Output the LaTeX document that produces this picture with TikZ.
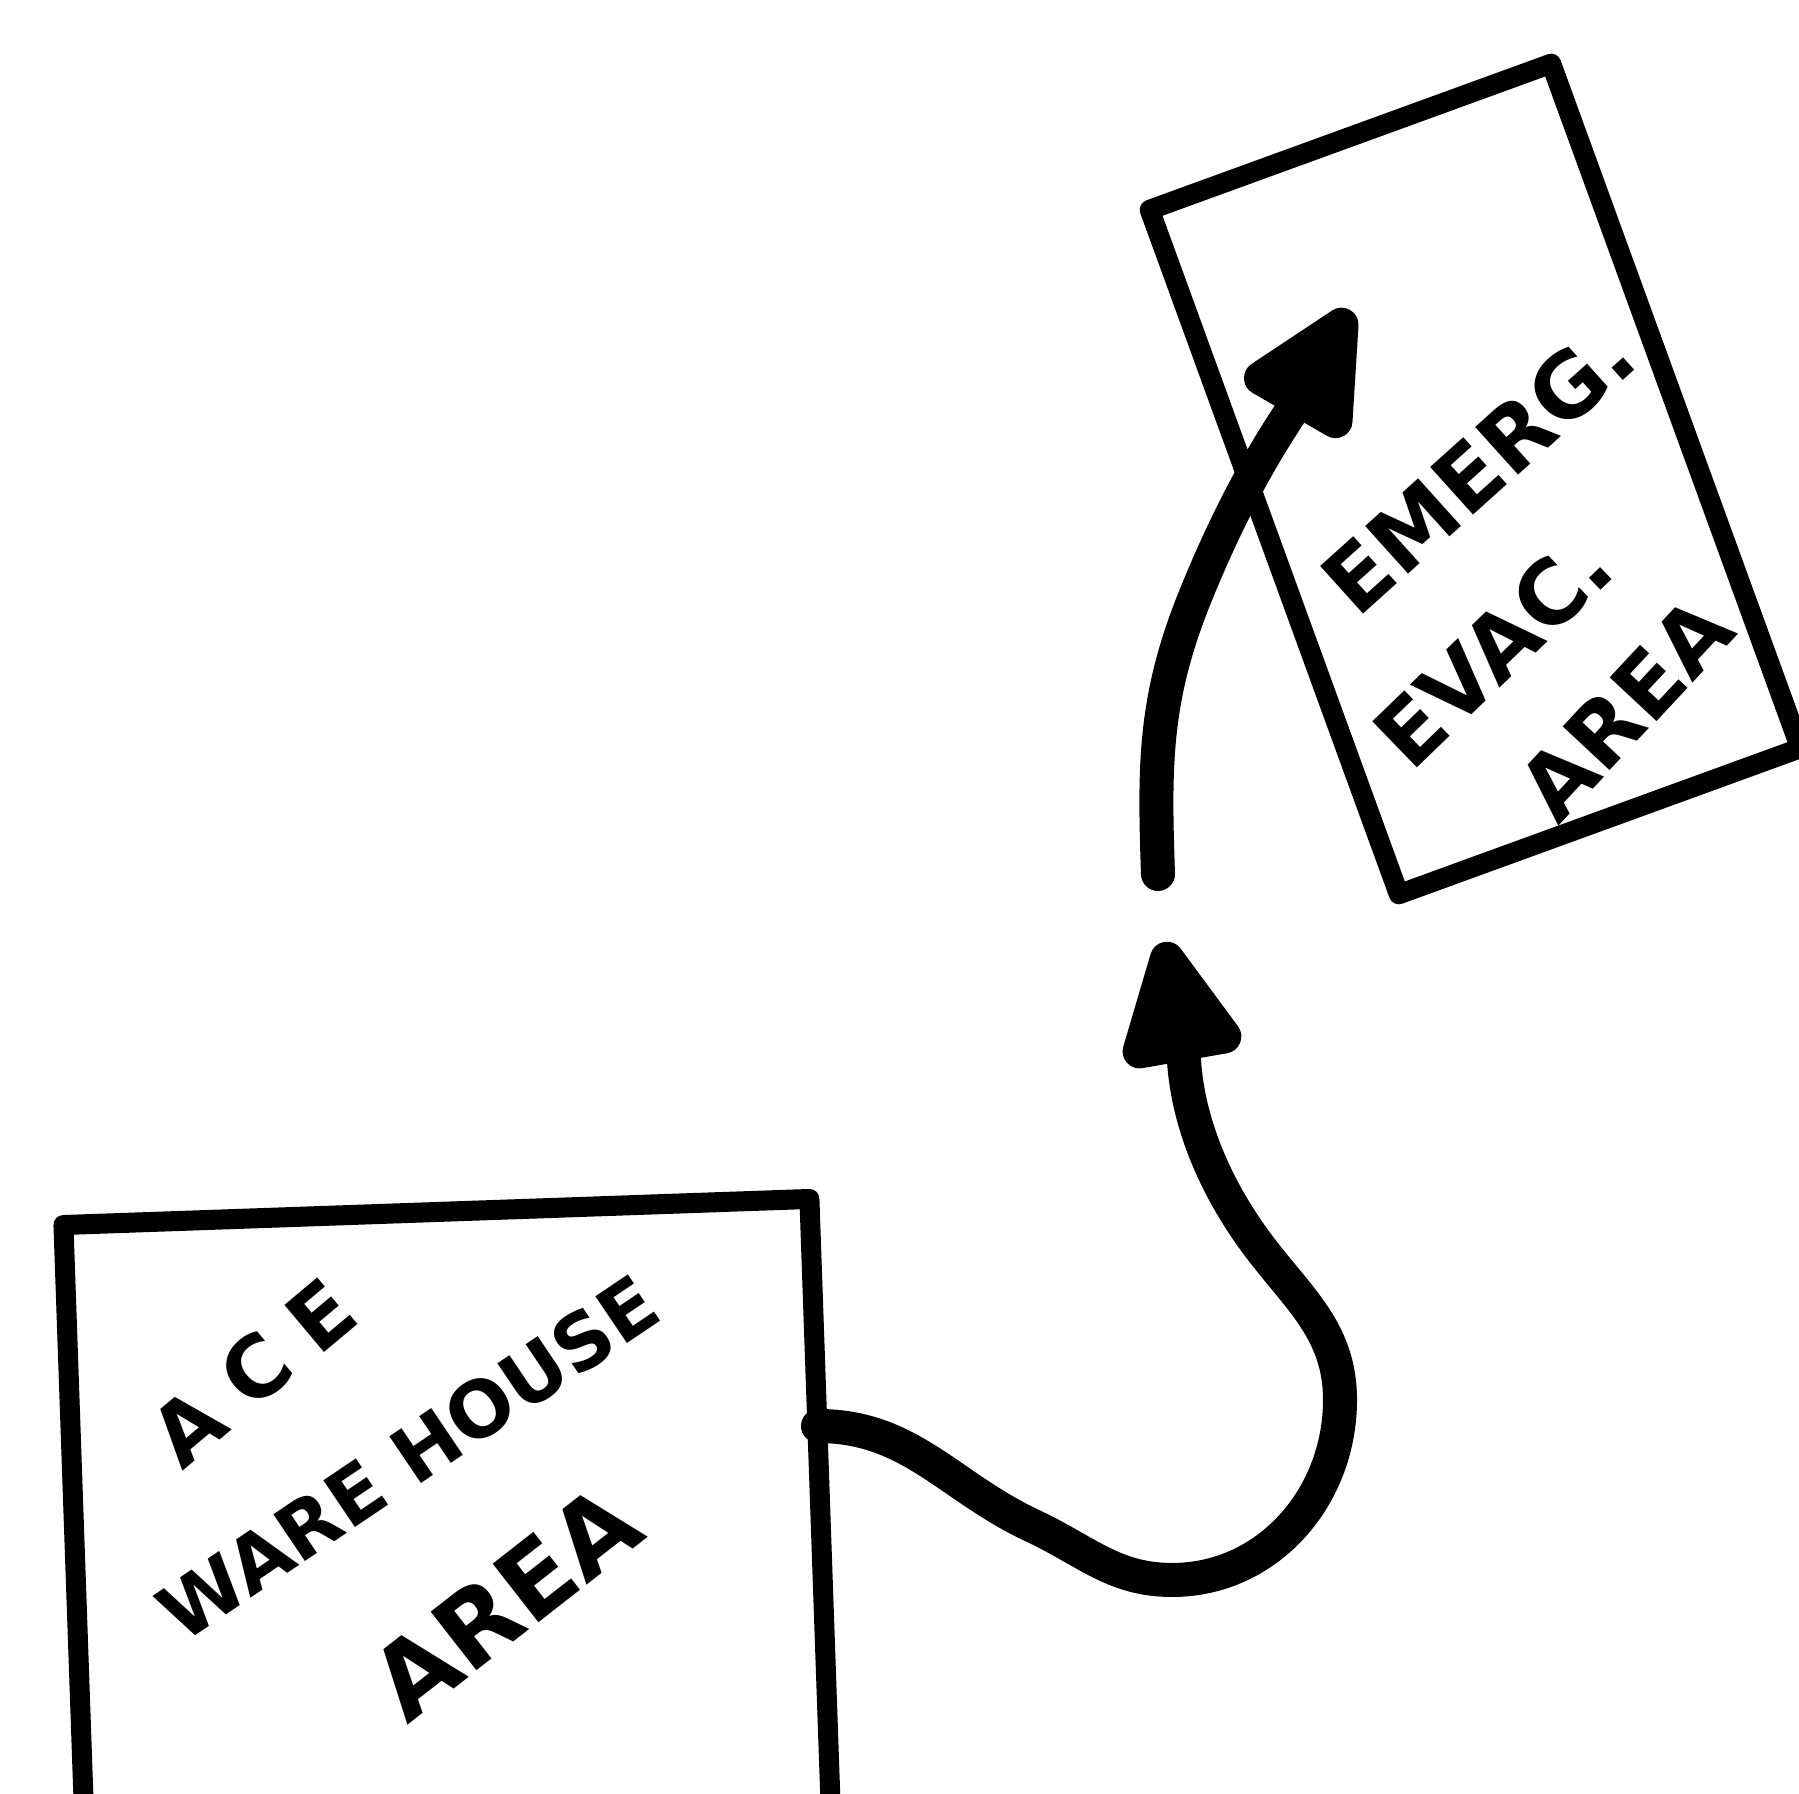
\documentclass[tikz,border=0pt]{standalone}
\usepackage{fontspec}
\setmainfont{DejaVu Sans}
\usetikzlibrary{arrows.meta}

\begin{document}
\begin{tikzpicture}[
	x=0.01cm,
	y=0.01cm,
	area/.style={
		rectangle,
		draw=black,
		line width=0.2cm,
		line join=round
	},
	handtext/.style={
		inner sep=0pt,
		font=\bfseries\fontsize{24}{28}\selectfont
	},
	arrow/.style={-{Triangle[length=1.45cm,width=1.3cm,round]}, line width=0.34cm, line cap=round}
]

\clip (0,0) rectangle (1799,1794);

% Ware house area (cut off by the bottom edge)
\node[area, minimum width=7.46cm, minimum height=7.2cm, rotate=2] (ware) at (449,222) {};

\node[handtext, rotate=40] (ace) at (253,422) {A\hspace{0.25cm}C\hspace{0.25cm}E};
\node[handtext, font=\bfseries\fontsize{22}{26}\selectfont, rotate=34] (warehouse) at (408,336) {WARE HOUSE};
\node[handtext, font=\bfseries\fontsize{29}{34}\selectfont, rotate=38] (warearea) at (505,192) {AREA};

% Emergency evacuation area
\node[area, minimum width=4.27cm, minimum height=7.28cm, rotate=20] (evac) at (1475,1315) {};

\node[handtext, font=\bfseries\fontsize{25}{30}\selectfont, rotate=42] (emerg) at (1478,1326) {EMERG.};
\node[handtext, font=\bfseries\fontsize{25}{30}\selectfont, rotate=44] (evactext) at (1493,1144) {EVAC.};
\node[handtext, font=\bfseries\fontsize{25}{30}\selectfont, rotate=47] (evacarea) at (1625,1086) {AREA};

% Route, broken in the middle
\coordinate (exit) at (818,368);
\coordinate (gapbot) at (1164,852);
\coordinate (gaptop) at (1158,920);
\coordinate (target) at (1350,1484);

\draw[arrow] (exit) to[out=0,in=155] (1033,268) to[out=-25,in=180] (1172,214)
	to[out=0,in=-90] (1340,394) to[out=90,in=-55] (1250,560) to[out=125,in=-80] (gapbot);
\draw[arrow] (gaptop) to[out=92,in=-112] (1195,1197) to[out=68,in=-120] (target);

\end{tikzpicture}
\end{document}
